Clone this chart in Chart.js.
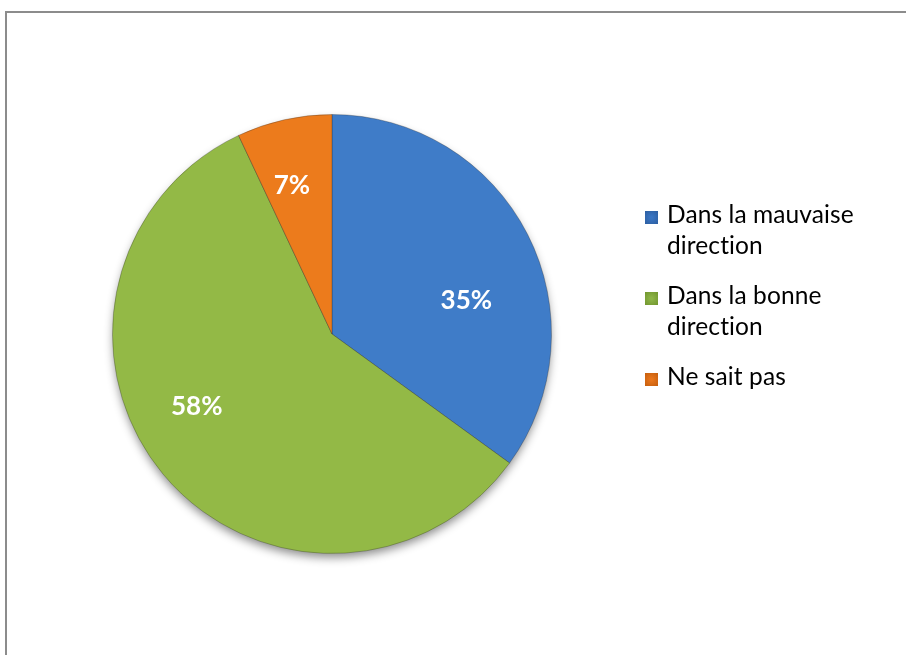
<!DOCTYPE html>
<html>
<head>
<meta charset="utf-8">
<script src="https://cdn.jsdelivr.net/npm/chart.js@4/dist/chart.umd.min.js"></script>
<style>
  html, body { margin: 0; padding: 0; background: #fff; overflow: hidden; }
  #wrap { position: relative; width: 906px; height: 655px; }
  #frame { position: absolute; left: 5px; top: 11px; width: 1000px; height: 1000px; border: 2px solid #8c8c8c; box-sizing: border-box; }
  canvas { position: absolute; left: 0; top: 0; }
</style>
</head>
<body>
<div id="wrap">
  <div id="frame"></div>
  <canvas id="c" width="906" height="655"></canvas>
</div>
<script>
const categories = [["Dans la mauvaise", "direction"], ["Dans la bonne", "direction"], "Ne sait pas"];
const values = [35, 58, 7];
const baseColors = ["#3f7cc8", "#93b946", "#ec7b1c"];
const rimColors = ["#2b5c9e", "#6f932c", "#c25c0c"];
const boxColors = ["#3a75c2", "#8db447", "#e8761c"];

// label placement within each slice: fraction of slice angle, fraction of radius
const labelPlace = [[0.605, 0.63], [0.554, 0.70], [0.40, 0.70]];

const pieShadow = {
  id: 'pieShadow',
  beforeDatasetsDraw(chart) {
    const arc = chart.getDatasetMeta(0).data[0];
    if (!arc) return;
    const ctx = chart.ctx;
    ctx.save();
    ctx.shadowColor = 'rgba(0,0,0,0.45)';
    ctx.shadowBlur = 10;
    ctx.shadowOffsetY = 5;
    ctx.fillStyle = '#888';
    ctx.beginPath();
    ctx.arc(arc.x, arc.y, arc.outerRadius - 1, 0, Math.PI * 2);
    ctx.fill();
    ctx.restore();
  }
};

const sliceLabels = {
  id: 'sliceLabels',
  afterDatasetsDraw(chart) {
    const ctx = chart.ctx;
    const meta = chart.getDatasetMeta(0);
    const total = values.reduce((a, b) => a + b, 0);
    ctx.save();
    ctx.fillStyle = '#ffffff';
    ctx.font = 'bold 26px Lato';
    ctx.textAlign = 'center';
    ctx.textBaseline = 'middle';
    meta.data.forEach((arc, i) => {
      const [af, rf] = labelPlace[i];
      const a = arc.startAngle + (arc.endAngle - arc.startAngle) * af;
      const r = arc.outerRadius * rf;
      const x = arc.x + Math.cos(a) * r;
      const y = arc.y + Math.sin(a) * r;
      ctx.fillText(Math.round(values[i] / total * 100) + '%', x, y);
    });
    ctx.restore();
  }
};

const customLegend = {
  id: 'customLegend',
  afterDraw(chart) {
    const ctx = chart.ctx;
    ctx.save();
    const boxX = 645, boxSize = 13, textX = 667, lineH = 31, gap = 50;
    let y = 223;
    ctx.font = '24.5px Lato';
    if ('letterSpacing' in ctx) ctx.letterSpacing = '0.1px';
    if ('textRendering' in ctx) ctx.textRendering = 'optimizeSpeed';
    ctx.textBaseline = 'alphabetic';
    ctx.textAlign = 'left';
    chart.data.labels.forEach((lab, i) => {
      const lines = Array.isArray(lab) ? lab : [lab];
      const by = y - 12;
      const g = ctx.createRadialGradient(boxX + boxSize / 2, by + boxSize / 2, 1, boxX + boxSize / 2, by + boxSize / 2, boxSize * 0.75);
      g.addColorStop(0, boxColors[i]);
      g.addColorStop(1, rimColors[i]);
      ctx.fillStyle = g;
      ctx.fillRect(boxX, by, boxSize, boxSize);
      ctx.fillStyle = '#000';
      lines.forEach((t, k) => {
        ctx.fillText(t, textX, y + k * lineH);
      });
      y += (lines.length - 1) * lineH + gap;
    });
    ctx.restore();
  }
};

const ctx = document.getElementById('c').getContext('2d');
new Chart(ctx, {
  type: 'pie',
  data: {
    labels: categories,
    datasets: [{
      data: values,
      backgroundColor: (c) => {
        const chart = c.chart;
        const arc = c.element;
        const i = c.dataIndex;
        if (!arc || !arc.outerRadius) return baseColors[i];
        const g = chart.ctx.createRadialGradient(arc.x, arc.y, 0, arc.x, arc.y, arc.outerRadius);
        g.addColorStop(0, baseColors[i]);
        g.addColorStop(0.93, baseColors[i]);
        g.addColorStop(1, rimColors[i]);
        return g;
      },
      borderColor: 'rgba(40,40,40,0.3)',
      borderWidth: 1
    }]
  },
  options: {
    responsive: false,
    animation: false,
    layout: { padding: { left: 112, right: 354, top: 114, bottom: 101 } },
    plugins: {
      legend: { display: false },
      tooltip: { enabled: false }
    }
  },
  plugins: [pieShadow, sliceLabels, customLegend]
});
</script>
</body>
</html>
